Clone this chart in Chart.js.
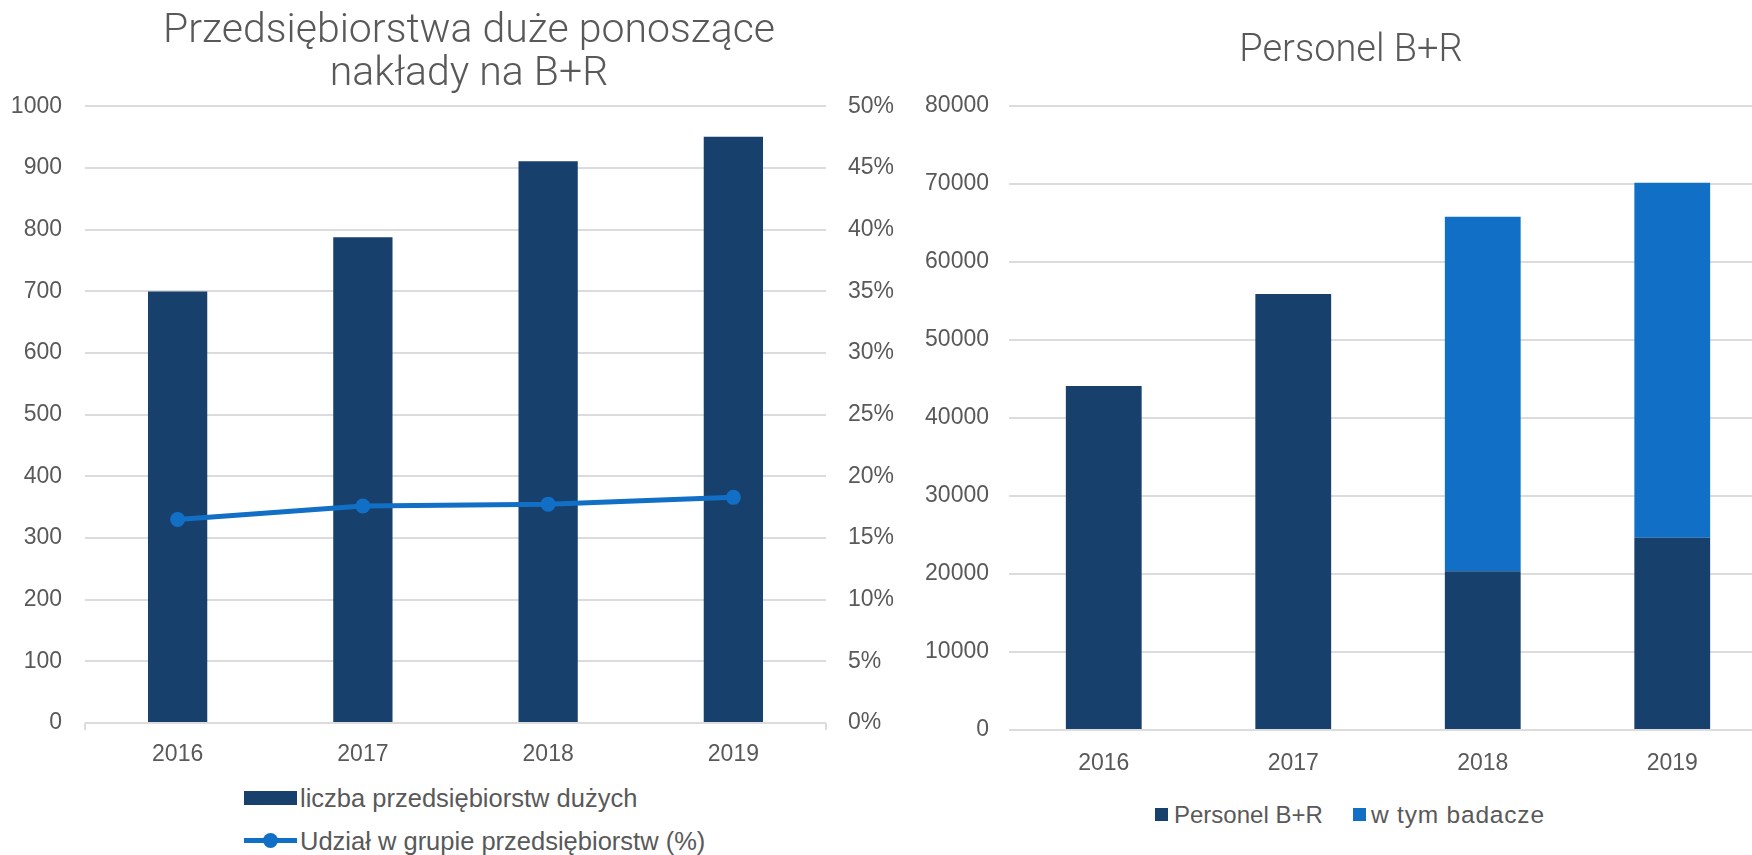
<!DOCTYPE html>
<html>
<head>
<meta charset="utf-8">
<script src="https://cdn.jsdelivr.net/npm/chart.js@4.4.1/dist/chart.umd.min.js"></script>
<style>
  html, body { margin: 0; padding: 0; width: 1752px; height: 855px; overflow: hidden; background: #ffffff; }
  #c1 { position: absolute; left: 0; top: 0; }
  #c2 { position: absolute; left: 900px; top: 0; }
  .lg { position: absolute; font-family: 'Liberation Sans', Arial, sans-serif; color: #595959; white-space: nowrap; }
  .sw { position: absolute; }
</style>
</head>
<body>
<canvas id="c1" width="938" height="780"></canvas>
<canvas id="c2" width="902" height="790"></canvas>

<!-- left legend -->
<div class="sw" style="left:244px;top:791px;width:53px;height:14px;background:#17406D;"></div>
<div class="lg" style="left:300px;top:783px;height:30px;line-height:30px;font-size:25.5px;">liczba przedsiębiorstw dużych</div>
<div class="sw" style="left:244px;top:838px;width:53px;height:5px;background:#1170C6;"></div>
<div class="sw" style="left:263px;top:833px;width:15px;height:15px;border-radius:50%;background:#1170C6;"></div>
<div class="lg" style="left:300px;top:826px;height:30px;line-height:30px;font-size:25.5px;">Udział w grupie przedsiębiorstw (%)</div>

<!-- right legend -->
<div class="sw" style="left:1155px;top:808px;width:13px;height:13px;background:#17406D;"></div>
<div class="lg" style="left:1174px;top:800px;height:30px;line-height:30px;font-size:24px;">Personel B+R</div>
<div class="sw" style="left:1353px;top:808px;width:13px;height:13px;background:#1170C6;"></div>
<div class="lg" style="left:1371px;top:800px;height:30px;line-height:30px;font-size:24.5px;letter-spacing:0.8px;">w tym badacze</div>

<script>
// ---- data ----
const years = ['2016', '2017', '2018', '2019'];
const liczbaDuzych = [700, 788, 911, 951];
const udzialProc = [16.5, 17.6, 17.75, 18.3];
const personelBR = [44100, 55900, 20350, 24650];
const badacze = [null, null, 45450, 45500];
const leftTitle = ['Przedsiębiorstwa duże ponoszące', 'nakłady na B+R'];
const rightTitle = 'Personel B+R';
const leftAxisMax = 1000, leftAxisStep = 100;
const pctAxisMax = 50, pctAxisStep = 5;
const rightAxisMax = 80000, rightAxisStep = 10000;

// ---- styles ----
const NAVY = '#17406D';
const BLUE = '#1170C6';
const GRAY = '#595959';
const GRID = '#dcdcdc';
const FONT = "'Liberation Sans', Arial, sans-serif";
const TITLE_FONT = "Roboto, 'Liberation Sans', Arial, sans-serif";

Chart.defaults.font.family = FONT;
Chart.defaults.color = GRAY;

const tickFont = { family: FONT, size: 23, lineHeight: 1.2 };
const plain = (v) => String(v);

new Chart(document.getElementById('c1'), {
  type: 'bar',
  data: {
    labels: years,
    datasets: [
      {
        type: 'line',
        label: 'Udział w grupie przedsiębiorstw (%)',
        data: udzialProc,
        yAxisID: 'y1',
        borderColor: BLUE,
        backgroundColor: BLUE,
        borderWidth: 5,
        pointRadius: 7.5,
        pointHoverRadius: 7.5,
        pointBackgroundColor: BLUE,
        pointBorderWidth: 0,
        tension: 0,
        order: 1
      },
      {
        type: 'bar',
        label: 'liczba przedsiębiorstw dużych',
        data: liczbaDuzych,
        yAxisID: 'y',
        backgroundColor: NAVY,
        borderWidth: 0,
        barPercentage: 0.32,
        categoryPercentage: 1,
        order: 2
      }
    ]
  },
  options: {
    responsive: false,
    animation: false,
    layout: { padding: 0 },
    plugins: {
      legend: { display: false },
      tooltip: { enabled: false },
      title: {
        display: true,
        text: leftTitle,
        color: GRAY,
        font: { family: TITLE_FONT, size: 41, weight: 300, lineHeight: 1.03 },
        padding: { top: 11, bottom: 11 }
      }
    },
    scales: {
      x: {
        offset: true,
        grid: {
          offset: true,
          drawOnChartArea: false,
          drawTicks: true,
          tickLength: 7,
          lineWidth: 2,
          color: (ctx) => (ctx.type === 'tick' && ctx.index !== 0) ? 'rgba(0,0,0,0)' : GRID
        },
        border: { display: false },
        ticks: { font: tickFont, color: GRAY, padding: 11, maxRotation: 0, autoSkip: false },
        afterFit: (s) => { s.height = 57; }
      },
      y: {
        position: 'left',
        min: 0, max: leftAxisMax,
        ticks: { stepSize: leftAxisStep, font: tickFont, color: GRAY, padding: 23, callback: plain },
        grid: { color: GRID, lineWidth: 2, drawTicks: false },
        border: { display: false },
        afterFit: (s) => { s.width = 85; }
      },
      y1: {
        position: 'right',
        min: 0, max: pctAxisMax,
        ticks: { stepSize: pctAxisStep, font: tickFont, color: GRAY, padding: 22, callback: (v) => v + '%' },
        grid: { display: false, drawTicks: false },
        border: { display: false },
        afterFit: (s) => { s.width = 112; }
      }
    }
  }
});

new Chart(document.getElementById('c2'), {
  type: 'bar',
  data: {
    labels: years,
    datasets: [
      {
        label: 'Personel B+R',
        data: personelBR,
        backgroundColor: NAVY,
        borderWidth: 0,
        barPercentage: 0.4,
        categoryPercentage: 1
      },
      {
        label: 'w tym badacze',
        data: badacze,
        backgroundColor: BLUE,
        borderWidth: 0,
        barPercentage: 0.4,
        categoryPercentage: 1
      }
    ]
  },
  options: {
    responsive: false,
    animation: false,
    layout: { padding: 0 },
    plugins: {
      legend: { display: false },
      tooltip: { enabled: false },
      title: {
        display: true,
        text: rightTitle,
        color: GRAY,
        font: { family: TITLE_FONT, size: 38, weight: 300, lineHeight: 1 },
        padding: { top: 32, bottom: 36 }
      }
    },
    scales: {
      x: {
        stacked: true,
        grid: { display: false, drawTicks: false },
        border: { display: false },
        ticks: { font: tickFont, color: GRAY, padding: 20, maxRotation: 0, autoSkip: false },
        afterFit: (s) => { s.height = 60; }
      },
      y: {
        position: 'left',
        stacked: true,
        min: 0, max: rightAxisMax,
        ticks: { stepSize: rightAxisStep, font: tickFont, color: GRAY, padding: 20, callback: plain },
        grid: { color: GRID, lineWidth: 2, drawTicks: false },
        border: { display: false },
        afterFit: (s) => { s.width = 109; }
      },
      yPad: {
        type: 'linear',
        position: 'right',
        display: true,
        min: 0, max: 1,
        ticks: { display: false },
        grid: { display: false, drawTicks: false },
        border: { display: false },
        afterFit: (s) => { s.width = 35; }
      }
    }
  }
});
</script>
</body>
</html>
